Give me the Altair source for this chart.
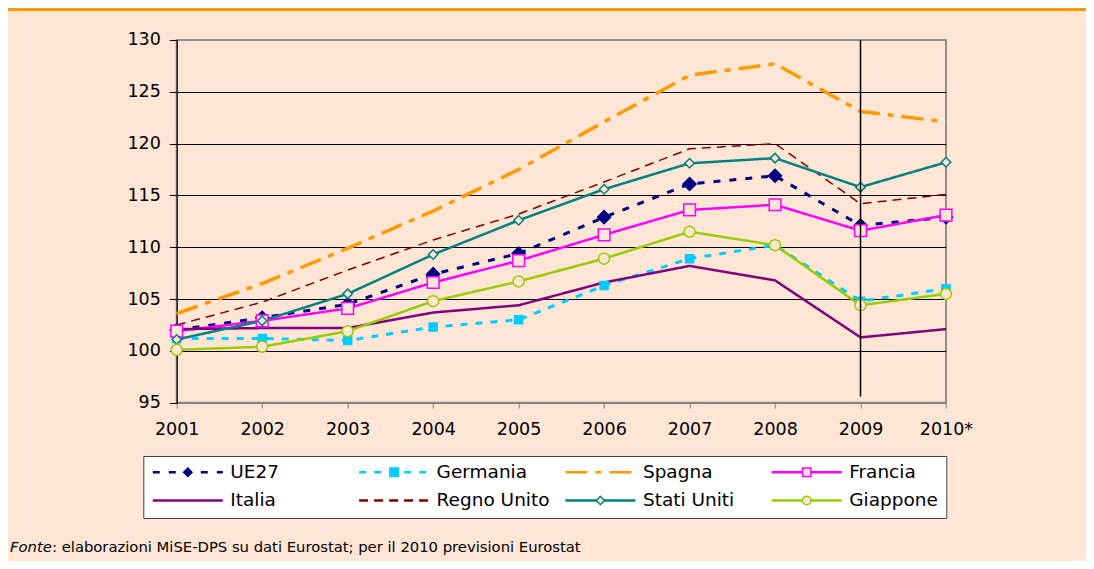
import altair as alt
import pandas as pd

# ---------------- data ----------------
years = ["2001", "2002", "2003", "2004", "2005", "2006", "2007", "2008", "2009", "2010*"]
series = ["UE27", "Germania", "Spagna", "Francia", "Italia", "Regno Unito", "Stati Uniti", "Giappone"]

ue27 = [102.0, 103.2, 104.5, 107.4, 109.4, 112.9, 116.1, 116.9, 112.1, 112.9]
germania = [101.2, 101.2, 101.0, 102.3, 103.0, 106.3, 108.9, 110.2, 104.8, 106.0]
spagna = [103.6, 106.5, 109.9, 113.5, 117.5, 122.1, 126.6, 127.7, 123.1, 122.1]
francia = [101.9, 102.9, 104.1, 106.6, 108.7, 111.2, 113.6, 114.1, 111.6, 113.1]
italia = [102.1, 102.2, 102.2, 103.7, 104.4, 106.6, 108.2, 106.8, 101.3, 102.1]
regno_unito = [102.5, 104.7, 107.8, 110.7, 113.2, 116.3, 119.5, 120.0, 114.2, 115.1]
stati_uniti = [101.1, 102.9, 105.5, 109.3, 112.6, 115.6, 118.1, 118.6, 115.8, 118.2]
giappone = [100.1, 100.4, 101.9, 104.8, 106.7, 108.9, 111.5, 110.2, 104.4, 105.5]

y_ticks = [95, 100, 105, 110, 115, 120, 125, 130]
y_domain = [95, 130]
marker_year = "2009"
marker_top = 130
marker_bottom = 95.6

footer_italic = "Fonte"
footer_rest = ": elaborazioni MiSE-DPS su dati Eurostat; per il 2010 previsioni Eurostat"

# ---------------- styles ----------------
PEACH = "#FFE5D4"
FONT = "DejaVu Sans"
line_colors = ["#000080", "#00CCFF", "#FF9900", "#FF00FF", "#800080", "#800000", "#008080", "#99CC00"]
line_dashes = [[7, 9], [7, 8], [22, 8, 6, 8], [1, 0], [1, 0], [9, 6], [1, 0], [1, 0]]
line_widths = [3, 3, 3.5, 2.5, 2.5, 1.5, 2.5, 2.5]
marker_shapes = ["diamond", "square", "circle", "square", "circle", "circle", "diamond", "circle"]
marker_sizes = [170, 64, 0, 137, 0, 0, 90, 121]
marker_strokes = ["#000080", "#00CCFF", "transparent", "#FF00FF", "transparent", "transparent", "#008080", "#99CC00"]
marker_fills = ["#000080", "#00CCFF", "transparent", PEACH, "transparent", "transparent", PEACH, PEACH]

W, H = 769.3, 362.7
PAD = {"left": 168.7, "top": 32, "right": 140, "bottom": 158}

rows = []
all_vals = [ue27, germania, spagna, francia, italia, regno_unito, stati_uniti, giappone]
for i, (name, vals) in enumerate(zip(series, all_vals)):
    for yr, v in zip(years, vals):
        rows.append({"anno": yr, "serie": name, "valore": v,
                     "sw": line_widths[i], "ms": marker_sizes[i]})
df = pd.DataFrame(rows)

x_scale = alt.Scale(domain=years, type="point", padding=0)
y_scale = alt.Scale(domain=y_domain, nice=False, zero=False)

x_axis = alt.Axis(title=None, labelAngle=0, tickSize=5.5, tickColor="#808080", domainColor="#808080",
                  domainWidth=1.5, labelPadding=12, grid=False, labelFont=FONT, labelFontSize=17.5,
                  labelColor="black")
y_axis = alt.Axis(title=None, values=y_ticks, tickSize=7.4, tickColor="black", domainColor="black",
                  domainWidth=1.2, labelPadding=9, grid=True,
                  gridColor={"condition": {"test": "datum.value === 130", "value": "#8c8c8c"}, "value": "black"},
                  gridWidth=1.2, labelFont=FONT, labelFontSize=17.5, labelColor="black")

LEG_X, LEG_Y = -33.4, 416
LEG_FS = 18.5
COL_PAD = 13.3
ROW_PAD = 9.5
line_legend = alt.Legend(title=None, orient="none", legendX=LEG_X, legendY=LEG_Y, columns=4,
                         direction="horizontal", symbolType="stroke", symbolSize=4900,
                         symbolStrokeWidth=2.5, clipHeight=16, rowPadding=ROW_PAD,
                         columnPadding=COL_PAD, labelOffset=6, gridAlign="all", labelFont=FONT,
                         labelFontSize=LEG_FS, labelColor="black", labelLimit=300, padding=8,
                         fillColor="white", strokeColor="#404040", zindex=0)
marker_legend = alt.Legend(title=None, orient="none", legendX=LEG_X, legendY=LEG_Y, columns=4,
                           direction="horizontal", clipHeight=16, rowPadding=ROW_PAD,
                           columnPadding=COL_PAD, labelOffset=33.25, symbolOffset=27.25,
                           symbolSize=70, gridAlign="all", labelFont=FONT, labelFontSize=LEG_FS,
                           labelOpacity=0, labelLimit=300, padding=8, symbolStrokeWidth=1.5,
                           fillColor="transparent", strokeColor="transparent", zindex=1)

base = alt.Chart(df)

lines = base.mark_line().encode(
    x=alt.X("anno:N", scale=x_scale, axis=x_axis),
    y=alt.Y("valore:Q", scale=y_scale, axis=y_axis),
    color=alt.Color("serie:N", scale=alt.Scale(domain=series, range=line_colors), legend=line_legend),
    strokeDash=alt.StrokeDash("serie:N", scale=alt.Scale(domain=series, range=line_dashes), legend=line_legend),
    strokeWidth=alt.StrokeWidth("sw:Q", scale=None),
    order=alt.Order("anno:N"),
)

points = base.mark_point(filled=True, strokeWidth=1.5, opacity=1).encode(
    x=alt.X("anno:N", scale=x_scale, axis=x_axis),
    y=alt.Y("valore:Q", scale=y_scale, axis=y_axis),
    stroke=alt.Stroke("serie:N", scale=alt.Scale(domain=series, range=marker_strokes), legend=marker_legend),
    fill=alt.Fill("serie:N", scale=alt.Scale(domain=series, range=marker_fills), legend=marker_legend),
    shape=alt.Shape("serie:N", scale=alt.Scale(domain=series, range=marker_shapes), legend=marker_legend),
    size=alt.Size("ms:Q", scale=None),
)

vline_df = pd.DataFrame({"anno": [marker_year], "valore": [marker_top], "valore2": [marker_bottom]})
vline = alt.Chart(vline_df).mark_rule(color="black", strokeWidth=1.5).encode(
    x=alt.X("anno:N", scale=x_scale, axis=x_axis),
    y=alt.Y("valore:Q", scale=y_scale, axis=y_axis),
    y2="valore2:Q",
)

foot1 = alt.Chart(pd.DataFrame({"t": [footer_italic]})).mark_text(
    align="left", baseline="middle", font=FONT, fontSize=14.8, fontStyle="italic", color="black"
).encode(x=alt.value(-166.7), y=alt.value(508), text="t:N")

foot2 = alt.Chart(pd.DataFrame({"t": [footer_rest]})).mark_text(
    align="left", baseline="middle", font=FONT, fontSize=14.8, color="black"
).encode(x=alt.value(-166.7 + 42), y=alt.value(508), text="t:N")

topbar = alt.Chart(pd.DataFrame({"k": [1]})).mark_rect(color="#FF9900").encode(
    x=alt.value(-168.7), x2=alt.value(909.3), y=alt.value(-32), y2=alt.value(-29)
)

chart = alt.layer(lines, points, vline, foot1, foot2, topbar).resolve_legend(
    color="independent", strokeDash="independent"
).properties(
    width=W, height=H, padding=PAD,
    autosize=alt.AutoSizeParams(type="none"),
    background=PEACH,
).configure_view(stroke="#909090", strokeWidth=2)

chart.save("out.html", embed_options={"renderer": "svg", "actions": False})
